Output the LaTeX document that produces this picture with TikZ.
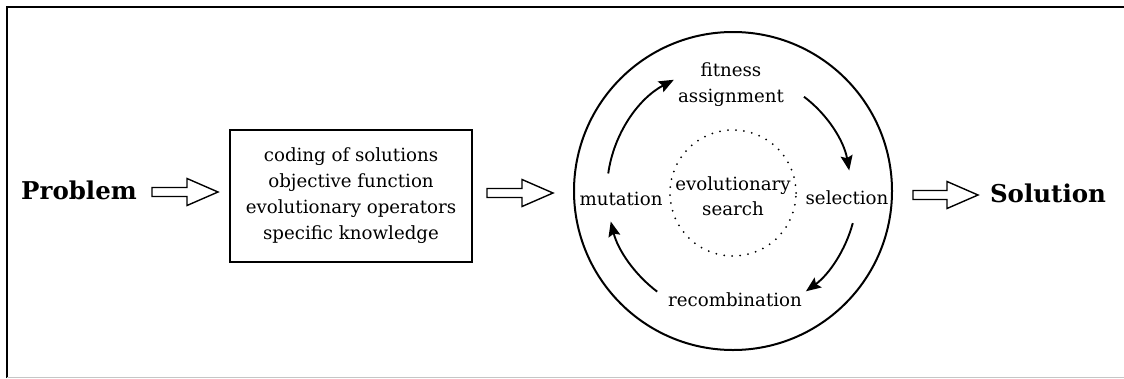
\documentclass[tikz,border=0pt]{standalone}
\usepackage{fontspec}
\setmainfont{DejaVu Serif}
\usetikzlibrary{arrows.meta,calc}

\begin{document}
\begin{tikzpicture}[x=1pt,y=1pt,
  lbl/.style={font=\fontsize{18.2}{26}\selectfont, inner sep=0pt, align=center},
  big/.style={font=\fontsize{24.5}{29}\selectfont\bfseries, inner sep=0pt},
  % open block arrow drawn between two named points
  hollow/.style={draw, line width=1.4pt, line join=miter, to path={
     let \p1=(\tikztostart), \p2=(\tikztotarget) in
     (\x1,\y1+4.5pt) -- (\x2-31pt,\y1+4.5pt) -- (\x2-31pt,\y1+13.5pt) -- (\x2,\y1)
     -- (\x2-31pt,\y1-13.5pt) -- (\x2-31pt,\y1-4.5pt) -- (\x1,\y1-4.5pt) -- cycle}},
  cyc/.style={line width=1.9pt, -{Stealth[length=15pt,width=12pt,inset=2.5pt]}},
  dots/.style={line width=2pt, line cap=round, dash pattern=on 0pt off 8pt},
]
\useasboundingbox (0,0) rectangle (1124,-378);

% frame
\draw[line width=2pt] (7,-378) -- (7,-7) -- (1124,-7);
\draw[gray!45, line width=1pt] (7,-377) -- (1124,-377);

% input, problem description and output
\node[big] (prob) at (79,-190) {Problem};
\node[draw, line width=2pt, minimum width=242, minimum height=132, lbl] (spec) at (351,-196)
  {coding of solutions\\objective function\\evolutionary operators\\specific knowledge};
\node[big] (sol) at (1048,-193) {Solution};

% evolutionary cycle
\node[draw, circle, line width=2pt, minimum size=318, inner sep=0pt] (loop) at (733,-191) {};
\node[circle, dots, draw, minimum size=126, inner sep=0pt] (inner) at (733,-193) {};
\node[lbl, font=\fontsize{18.2}{25}\selectfont, text depth=0pt] (search) at (733,-196) {evolutionary\\search};
\node[lbl] (fit) at (731,-85) {fitness\\assignment};
\node[lbl] (mut) at (621,-199) {mutation};
\node[lbl] (sel) at (847,-198) {selection};
\node[lbl] (rec) at (735,-300) {recombination};

% end points of the open block arrows
\coordinate (a1s) at (152,-192); \coordinate (a1e) at (218,-192);
\coordinate (a2s) at (487,-193); \coordinate (a2e) at (553,-193);
\coordinate (a3s) at (913,-195); \coordinate (a3e) at (978,-195);
\draw[hollow] (a1s) to (a1e);
\draw[hollow] (a2s) to (a2e);
\draw[hollow] (a3s) to (a3e);

% curved arrows of the cycle
\coordinate (c) at (733,-191);
\coordinate (b1) at ($(c)+(172:126)$);
\coordinate (b2) at ($(c)+(53:118)$);
\coordinate (b3) at ($(c)+(-15:124)$);
\coordinate (b4) at ($(c)+(233:126)$);
\draw[cyc] (b1) arc[start angle=172, end angle=118, radius=126];
\draw[cyc] (b2) arc[start angle=53, end angle=10, radius=118];
\draw[cyc] (b3) arc[start angle=-15, end angle=-54, radius=124];
\draw[cyc] (b4) arc[start angle=233, end angle=194, radius=126];
\end{tikzpicture}
\end{document}
